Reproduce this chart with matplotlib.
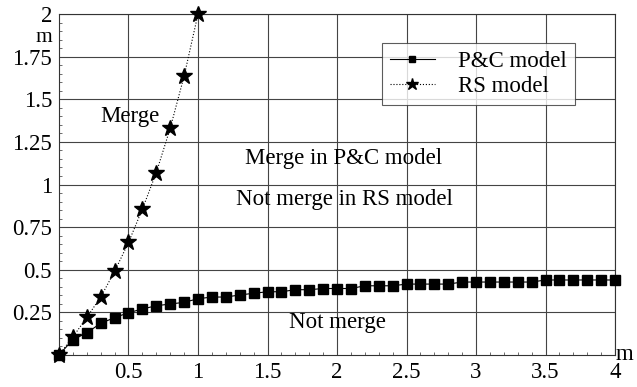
import matplotlib.pyplot as plt
from matplotlib.ticker import MultipleLocator
import numpy as np

plt.rcParams['font.family'] = ['Liberation Serif', 'DejaVu Serif']

# RS model: critical m versus m1
rs_x = [0.0, 0.1, 0.2, 0.3, 0.4, 0.5, 0.6, 0.7, 0.8, 0.9, 1.0]
rs_y = [0.0, 0.106, 0.22, 0.34, 0.49, 0.66, 0.856, 1.07, 1.33, 1.636, 2.0]

# P&C model: critical m versus m1
pc_x = [round(0.1 * i, 1) for i in range(41)]
pc_y = [0.0, 0.09, 0.13, 0.186, 0.219, 0.248, 0.27, 0.289, 0.299, 0.309,
        0.33, 0.34, 0.34, 0.352, 0.362, 0.371, 0.371, 0.383, 0.383, 0.39,
        0.39, 0.39, 0.406, 0.406, 0.406, 0.416, 0.416, 0.416, 0.416, 0.428,
        0.428, 0.428, 0.428, 0.428, 0.428, 0.44, 0.44, 0.44, 0.44, 0.44,
        0.44]

x_ticks = [0.5, 1, 1.5, 2, 2.5, 3, 3.5, 4]
x_tick_labels = ['0.5', '1', '1.5', '2', '2.5', '3', '3.5', '4']
y_ticks = [0.25, 0.5, 0.75, 1, 1.25, 1.5, 1.75, 2]
y_tick_labels = ['0.25', '0.5', '0.75', '1', '1.25', '1.5', '1.75', '2']

fs = 16.5

fig = plt.figure(figsize=(6.37, 3.87), dpi=100)
ax = fig.add_axes([0.0926, 0.0827, 0.873, 0.881])

ax.plot(pc_x, pc_y, '-', color='black', linewidth=0.8,
        marker='s', markersize=6.5, label='P&C model', clip_on=False, zorder=4)
ax.plot(rs_x, rs_y, ':', color='black', linewidth=0.8,
        marker='*', markersize=12, label='RS model', clip_on=False, zorder=5)

ax.set_xlim(0, 4)
ax.set_ylim(0, 2)
ax.set_xticks(x_ticks)
ax.set_xticklabels(x_tick_labels)
ax.set_yticks(y_ticks)
ax.set_yticklabels(y_tick_labels)
ax.xaxis.set_minor_locator(MultipleLocator(0.1))
ax.yaxis.set_minor_locator(MultipleLocator(0.05))
ax.tick_params(which='both', direction='in', top=False, right=False,
               labelsize=fs)
ax.tick_params(which='major', length=0, pad=5)
ax.tick_params(which='minor', length=2.5, width=0.6, color='#555555')
ax.grid(True, which='major', color='#444444', linewidth=0.8)
for s in ax.spines.values():
    s.set_linewidth(0.8)
    s.set_color('#333333')

# axis names: m above the y ticks, m at the right end of the x axis
ax.text(-0.05, 1.86, 'm', fontsize=fs - 1, ha='right', va='center', clip_on=False)
ax.text(4.0, 0.0, 'm', fontsize=fs, ha='left', va='center', clip_on=False)

ax.text(0.51, 1.40, 'Merge', fontsize=fs, ha='center', va='center')
ax.text(2.05, 1.155, 'Merge in P&C model', fontsize=fs, ha='center', va='center')
ax.text(2.05, 0.91, 'Not merge in RS model', fontsize=fs, ha='center', va='center')
ax.text(2.0, 0.19, 'Not merge', fontsize=fs, ha='center', va='center')

leg = ax.legend(loc='upper left', bbox_to_anchor=(0.58, 0.915), fontsize=fs,
                frameon=True, fancybox=False, edgecolor='#333333',
                borderpad=0.35, handlelength=2.0, handletextpad=1.0,
                labelspacing=0.15, borderaxespad=0, markerscale=0.75)
leg.get_frame().set_linewidth(0.8)

fig.savefig('out.png', dpi=100)
